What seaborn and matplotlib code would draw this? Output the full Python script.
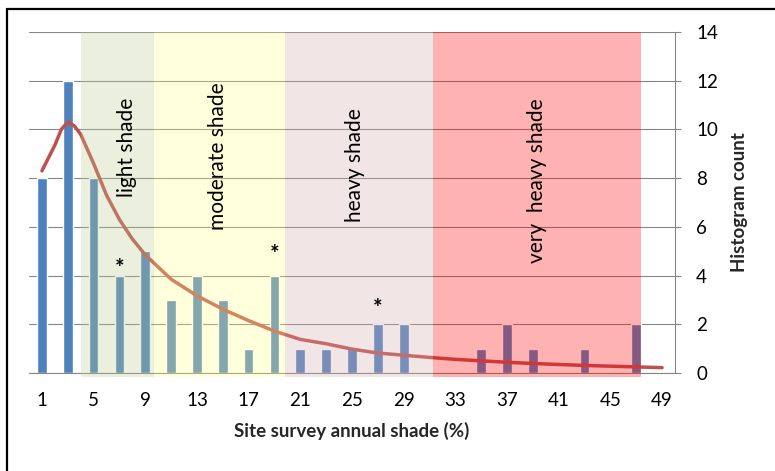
import matplotlib
matplotlib.use("Agg")
import matplotlib.pyplot as plt
import seaborn as sns
import pandas as pd
from matplotlib.lines import Line2D

# ---- data ----
shade_pct = list(range(1, 50, 2))
counts = [8, 12, 8, 4, 5, 3, 4, 3, 1, 4, 1, 1, 1, 2, 2, 0, 0, 1, 2, 1, 0, 1, 0, 2, 0]

fit_x = [1, 2, 2.5, 3, 3.5, 4, 5, 6, 7, 8, 9, 11, 13, 15, 17, 19, 21, 23, 25, 27,
         29, 31, 33, 35, 37, 39, 41, 43, 45, 47, 49]
fit_y = [8.3, 9.35, 10.0, 10.3, 10.15, 9.8, 8.6, 7.3, 6.3, 5.5, 4.85, 3.85, 3.17,
         2.62, 2.15, 1.72, 1.38, 1.2, 0.98, 0.82, 0.73, 0.64, 0.56, 0.5, 0.44,
         0.39, 0.35, 0.31, 0.28, 0.25, 0.22]

star_x = [7, 19, 27]
star_y = [4.3, 4.85, 2.65]

zone_names = ["light shade", "moderate shade", "heavy shade", "very  heavy shade"]
zone_start = [4.0, 9.7, 19.8, 31.3]
zone_end = [9.7, 19.8, 31.3, 47.4]
zone_colors = ["#BCD091", "#FFFF8A", "#D7ACAC", "#FF0000"]
zone_label_x = [7.6, 14.6, 25.2, 39.3]
zone_label_y = [9.25, 8.9, 8.55, 7.9]

x_labels = list(range(1, 50, 4))

# ---- style ----
sns.set_style("white")
plt.rcParams['font.family'] = ['Lato', 'DejaVu Sans']
grey = "#868686"

fig = plt.figure(figsize=(7.75, 4.71), dpi=100)
ax = fig.add_axes([29 / 775, 1 - 373 / 471, 646 / 775, 341 / 471])

df = pd.DataFrame({"shade": shade_pct, "count": counts})
sns.barplot(data=df, x="shade", y="count", native_scale=True, color="#4F81BD",
            saturation=1, width=0.375, errorbar=None, ax=ax, zorder=1)

fit = pd.DataFrame({"x": fit_x, "y": fit_y})
sns.lineplot(data=fit, x="x", y="y", color="#C0504D", lw=2.5, ax=ax, zorder=2)

# translucent shade zones drawn over bars and curve
for x0, x1, c in zip(zone_start, zone_end, zone_colors):
    ax.axvspan(x0, x1, ymin=-0.011, ymax=1, color=c, alpha=0.3, lw=0,
               zorder=3, clip_on=False)

for name, lx, ly in zip(zone_names, zone_label_x, zone_label_y):
    ax.text(lx, ly, name, rotation=90, ha="center", va="center",
            fontsize=15, color="black", zorder=5)

for sx, sy in zip(star_x, star_y):
    ax.text(sx, sy, "*", ha="center", va="center", fontsize=16,
            fontweight="bold", color="black", zorder=5)

ax.set_xlim(0, 50)
ax.set_ylim(0, 14)
ax.set_xticks(x_labels)
ax.set_xticklabels([str(v) for v in x_labels])
ax.set_xticks(range(0, 51, 2), minor=True)
ax.set_yticks(range(0, 15, 2))

ax.yaxis.tick_right()
ax.yaxis.set_label_position("right")
ax.grid(axis="y", color=grey, lw=0.8)
ax.set_axisbelow(True)

for s in ["left", "top"]:
    ax.spines[s].set_visible(False)
for s in ["right", "bottom"]:
    ax.spines[s].set_color(grey)
    ax.spines[s].set_linewidth(0.8)

ax.tick_params(axis="x", which="major", length=0, pad=14, labelsize=13.5,
               colors="black")
ax.tick_params(axis="x", which="minor", length=5, width=0.8, color=grey,
               direction="out")
ax.tick_params(axis="y", which="major", length=4.3, width=0.8, color=grey,
               direction="out", pad=11, labelsize=13.5, labelcolor="black")

ax.set_xlabel("Site survey annual shade (%)", fontsize=13.5,
              fontweight="bold", labelpad=9)
ax.set_ylabel("Histogram count", fontsize=13.5, fontweight="bold",
              labelpad=9, rotation=90)

# outer chart frame (cropped at right and bottom)
fig.add_artist(Line2D([7 / 775, 7 / 775], [0, 1 - 9 / 471],
                      transform=fig.transFigure, color="black", lw=1.6))
fig.add_artist(Line2D([7 / 775, 1], [1 - 9 / 471, 1 - 9 / 471],
                      transform=fig.transFigure, color="black", lw=1.6))

fig.savefig("out.png", dpi=100)
